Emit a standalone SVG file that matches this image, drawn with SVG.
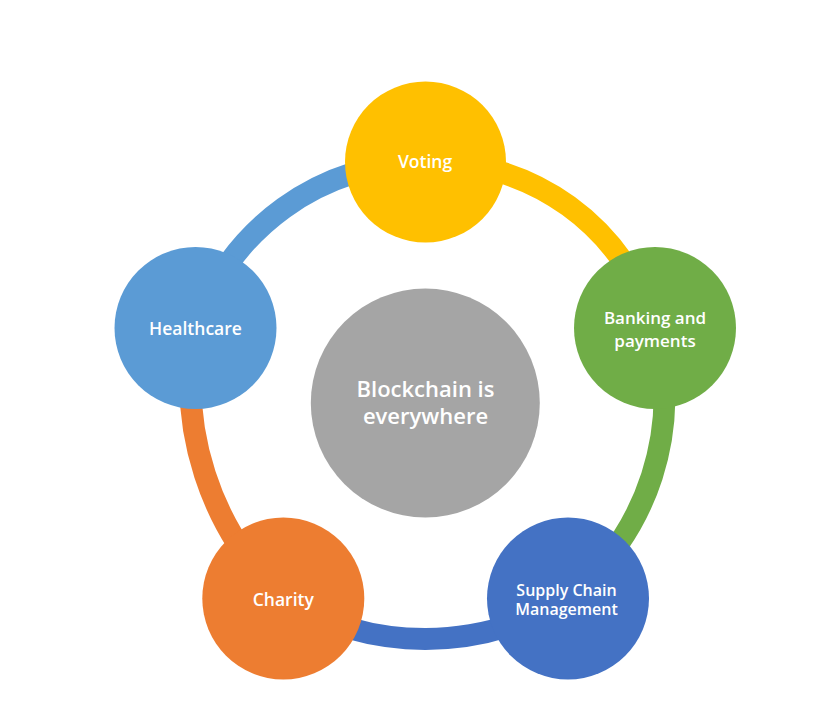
<svg xmlns="http://www.w3.org/2000/svg" width="820" height="723" viewBox="0 0 820 723">
<style>
.arc{fill:none;stroke-width:22}
.lbl{font-family:"Open Sans","Liberation Sans",sans-serif;font-weight:600;fill:#ffffff;text-anchor:middle}
</style>
<rect width="820" height="723" fill="#ffffff"/>
<g id="connectors">
<path class="arc" stroke="#FFC000" d="M425.5,162 A232,232 0 0 1 655,328"/>
<path class="arc" stroke="#70AD47" d="M655,328 A258,258 0 0 1 568,598"/>
<path class="arc" stroke="#4472C4" d="M568,598 A270,270 0 0 1 283,598.5"/>
<path class="arc" stroke="#ED7D31" d="M283,598.5 A298,298 0 0 1 195.5,328"/>
<path class="arc" stroke="#5B9BD5" d="M195.5,328 A243,243 0 0 1 425.5,162"/>
</g>
<g id="center">
<circle cx="425.3" cy="403" r="114.5" fill="#A5A5A5"/>
<text class="lbl" x="425.5" y="397" font-size="22">Blockchain is</text>
<text class="lbl" x="425.5" y="424" font-size="22">everywhere</text>
</g>
<g id="voting">
<circle cx="425.5" cy="162" r="80.5" fill="#FFC000"/>
<text class="lbl" x="425" y="168" font-size="17.5">Voting</text>
</g>
<g id="banking">
<circle cx="655" cy="328" r="81" fill="#70AD47"/>
<text class="lbl" x="655" y="324" font-size="17">Banking and</text>
<text class="lbl" x="655" y="346.5" font-size="17">payments</text>
</g>
<g id="supply">
<circle cx="568" cy="598.5" r="81" fill="#4472C4"/>
<text class="lbl" x="566.5" y="595.5" font-size="16">Supply Chain</text>
<text class="lbl" x="566.5" y="614.5" font-size="16">Management</text>
</g>
<g id="charity">
<circle cx="283.3" cy="598.5" r="81" fill="#ED7D31"/>
<text class="lbl" x="283.3" y="606" font-size="17.5">Charity</text>
</g>
<g id="healthcare">
<circle cx="195.5" cy="328" r="81" fill="#5B9BD5"/>
<text class="lbl" x="195.5" y="335" font-size="17.5">Healthcare</text>
</g>
</svg>
